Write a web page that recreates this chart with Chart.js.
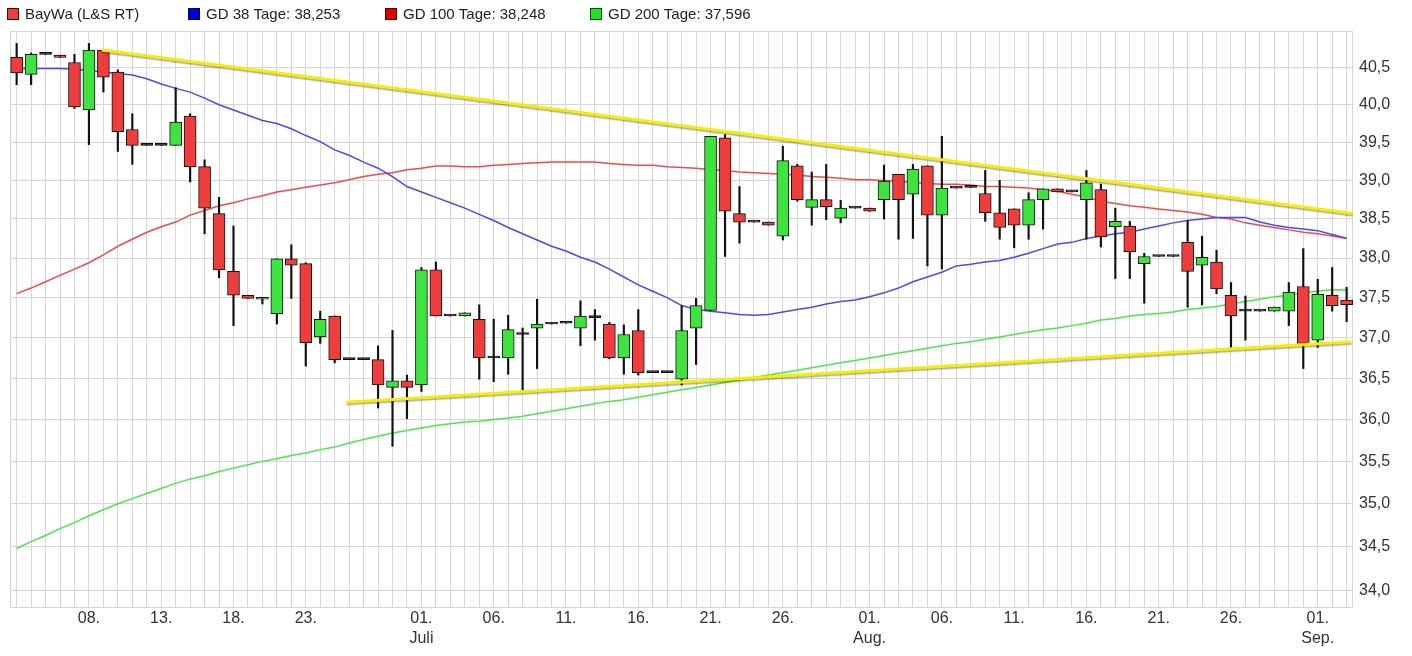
<!DOCTYPE html>
<html>
<head>
<meta charset="utf-8">
<script src="https://cdn.jsdelivr.net/npm/chart.js@4.4.1/dist/chart.umd.min.js"></script>
<style>
  html, body { margin: 0; padding: 0; background: #fff; }
</style>
</head>
<body>
<canvas id="chart" width="1412" height="656"></canvas>
<script>
// Daily candles, 03.06. (index 0) to 03.09. (index 92), weekends included (L&S trades them)
const opens = [
  40.64, 40.41, 40.68, 40.67, 40.57, 39.93, 40.74, 40.44, 39.67, 39.46,
  39.46, 39.46, 39.85, 39.18, 38.57, 37.83, 37.53, 37.48, 37.30, 37.99,
  37.93, 37.01, 37.27, 36.73, 36.73, 36.73, 36.39, 36.47, 36.42, 37.85,
  37.27, 37.27, 37.23, 36.75, 36.75, 37.04, 37.12, 37.17, 37.18, 37.12,
  37.25, 37.17, 36.75, 37.09, 36.57, 36.57, 36.49, 37.12, 37.34, 39.56,
  38.57, 38.46, 38.46, 38.28, 39.19, 38.65, 38.75, 38.51, 38.64, 38.64,
  38.75, 39.08, 38.82, 39.19, 38.55, 38.90, 38.91, 38.83, 38.58, 38.63,
  38.42, 38.75, 38.89, 38.85, 38.75, 38.88, 38.40, 38.41, 37.93, 38.02,
  38.02, 38.20, 37.91, 37.95, 37.53, 37.33, 37.33, 37.33, 37.33, 37.64,
  36.97, 37.53, 37.47
];
const highs = [
  40.83, 40.70, 40.68, 40.67, 40.68, 40.83, 40.75, 40.47, 39.88, 39.46,
  39.46, 40.23, 39.88, 39.27, 38.78, 38.41, 37.53, 37.50, 37.99, 38.17,
  37.94, 37.33, 37.27, 36.73, 36.73, 36.90, 37.09, 36.54, 37.88, 37.95,
  37.27, 37.31, 37.41, 37.23, 37.28, 37.12, 37.48, 37.17, 37.18, 37.46,
  37.35, 37.19, 37.16, 37.35, 36.57, 36.57, 37.40, 37.49, 39.58, 39.60,
  38.92, 38.46, 38.46, 39.45, 39.21, 39.11, 39.21, 38.74, 38.64, 38.64,
  39.20, 39.08, 39.21, 39.19, 39.58, 38.90, 38.91, 39.13, 39.00, 38.63,
  38.84, 38.89, 38.89, 38.85, 39.13, 38.95, 38.64, 38.47, 38.06, 38.02,
  38.02, 38.48, 38.28, 38.10, 37.69, 37.52, 37.33, 37.38, 37.69, 38.12,
  37.73, 37.88, 37.63
];
const lows = [
  40.27, 40.27, 40.68, 40.64, 39.95, 39.47, 40.17, 39.38, 39.21, 39.46,
  39.46, 39.46, 38.98, 38.31, 37.75, 37.15, 37.49, 37.42, 37.17, 37.49,
  36.65, 36.93, 36.69, 36.73, 36.73, 36.14, 35.68, 36.01, 36.34, 37.27,
  37.27, 37.27, 36.49, 36.46, 36.55, 36.36, 36.62, 37.17, 37.18, 36.90,
  36.97, 36.74, 36.55, 36.54, 36.57, 36.57, 36.42, 36.67, 37.34, 38.02,
  38.19, 38.46, 38.42, 38.23, 38.73, 38.42, 38.49, 38.45, 38.64, 38.60,
  38.50, 38.24, 38.25, 37.90, 37.86, 38.90, 38.91, 38.47, 38.24, 38.13,
  38.24, 38.37, 38.85, 38.85, 38.24, 38.14, 37.74, 37.74, 37.43, 38.02,
  38.02, 37.38, 37.41, 37.55, 36.88, 36.97, 37.33, 37.33, 37.15, 36.62,
  36.88, 37.33, 37.20
];
const closes = [
  40.43, 40.68, 40.68, 40.64, 39.97, 40.74, 40.37, 39.64, 39.46, 39.46,
  39.46, 39.77, 39.18, 38.64, 37.85, 37.53, 37.49, 37.49, 37.99, 37.91,
  36.94, 37.23, 36.73, 36.73, 36.73, 36.42, 36.47, 36.39, 37.85, 37.27,
  37.27, 37.31, 36.75, 36.75, 37.10, 37.04, 37.17, 37.17, 37.18, 37.27,
  37.25, 36.75, 37.04, 36.57, 36.57, 36.57, 37.09, 37.40, 39.58, 38.60,
  38.46, 38.46, 38.42, 39.26, 38.75, 38.75, 38.66, 38.64, 38.64, 38.60,
  38.99, 38.75, 39.15, 38.55, 38.90, 38.90, 38.91, 38.58, 38.39, 38.42,
  38.75, 38.89, 38.85, 38.85, 38.97, 38.27, 38.47, 38.08, 38.02, 38.02,
  38.02, 37.83, 38.01, 37.61, 37.27, 37.33, 37.33, 37.38, 37.57, 36.93,
  37.54, 37.40, 37.41
];

// Moving averages
const gd38 = [
  40.49, 40.49, 40.49, 40.49, 40.48, 40.46, 40.44, 40.42, 40.40, 40.35,
  40.28, 40.22, 40.17, 40.09, 40.00, 39.93, 39.86, 39.79, 39.75, 39.68,
  39.59, 39.51, 39.40, 39.33, 39.24, 39.16, 39.05, 38.92, 38.85, 38.78,
  38.71, 38.64, 38.56, 38.48, 38.39, 38.31, 38.23, 38.15, 38.09, 38.01,
  37.95, 37.86, 37.76, 37.66, 37.58, 37.50, 37.40, 37.35, 37.33, 37.31,
  37.29, 37.28, 37.29, 37.32, 37.35, 37.38, 37.42, 37.45, 37.47, 37.51,
  37.56, 37.62, 37.70, 37.76, 37.82, 37.90, 37.92, 37.95, 37.97, 38.01,
  38.06, 38.12, 38.18, 38.20, 38.25, 38.28, 38.31, 38.33, 38.37, 38.41,
  38.45, 38.48, 38.50, 38.52, 38.52, 38.52, 38.46, 38.42, 38.39, 38.37,
  38.35, 38.30, 38.253
];
const gd100 = [
  37.55, 37.62, 37.70, 37.78, 37.86, 37.94, 38.04, 38.15, 38.24, 38.33,
  38.40, 38.46, 38.55, 38.61, 38.67, 38.71, 38.76, 38.80, 38.85, 38.88,
  38.91, 38.94, 38.97, 39.01, 39.05, 39.08, 39.10, 39.14, 39.16, 39.19,
  39.19, 39.18, 39.18, 39.20, 39.21, 39.22, 39.23, 39.24, 39.24, 39.24,
  39.24, 39.22, 39.21, 39.20, 39.20, 39.18, 39.17, 39.16, 39.14, 39.13,
  39.11, 39.10, 39.09, 39.08, 39.07, 39.05, 39.04, 39.03, 39.01, 39.01,
  39.00, 38.99, 38.97, 38.96, 38.95, 38.95, 38.94, 38.92, 38.92, 38.91,
  38.90, 38.88, 38.86, 38.82, 38.78, 38.73, 38.70, 38.67, 38.65, 38.63,
  38.61, 38.59, 38.56, 38.52, 38.50, 38.45, 38.42, 38.39, 38.36, 38.33,
  38.31, 38.28, 38.248
];
const gd200 = [
  34.48, 34.56, 34.63, 34.71, 34.78, 34.86, 34.93, 35.00, 35.06, 35.12,
  35.18, 35.24, 35.29, 35.33, 35.38, 35.42, 35.46, 35.50, 35.53, 35.57,
  35.60, 35.64, 35.67, 35.72, 35.76, 35.80, 35.84, 35.87, 35.90, 35.93,
  35.95, 35.97, 35.98, 36.00, 36.02, 36.04, 36.07, 36.10, 36.13, 36.16,
  36.19, 36.22, 36.24, 36.27, 36.30, 36.33, 36.36, 36.39, 36.42, 36.45,
  36.48, 36.51, 36.54, 36.57, 36.60, 36.63, 36.66, 36.69, 36.72, 36.75,
  36.78, 36.81, 36.84, 36.87, 36.90, 36.93, 36.95, 36.98, 37.01, 37.04,
  37.07, 37.10, 37.12, 37.15, 37.18, 37.22, 37.24, 37.27, 37.29, 37.30,
  37.32, 37.35, 37.37, 37.39, 37.42, 37.45, 37.48, 37.51, 37.53, 37.56,
  37.58, 37.60, 37.596
];

// Hand-drawn trend lines (day index, price)
const upperTrendDays = [5.9, 92.43];
const upperTrendValues = [40.74, 38.57];
const lowerTrendDays = [22.83, 92.34];
const lowerTrendValues = [36.21, 36.95];

// Axis labels
const tickDays = [5, 10, 15, 20, 28, 33, 38, 43, 48, 53, 59, 64, 69, 74, 79, 84, 90];
const tickLabels = ['08.', '13.', '18.', '23.', ['01.', 'Juli'], '06.', '11.', '16.', '21.', '26.',
  ['01.', 'Aug.'], '06.', '11.', '16.', '21.', '26.', ['01.', 'Sep.']];
const priceTicks = [34, 34.5, 35, 35.5, 36, 36.5, 37, 37.5, 38, 38.5, 39, 39.5, 40, 40.5];

const legendTexts = ['BayWa (L&S RT)', 'GD 38 Tage: 38,253', 'GD 100 Tage: 38,248', 'GD 200 Tage: 37,596'];

const GREEN = '#3fe33f';
const RED = '#ee3d3d';
const GRID = '#d6d6d6';
const FONT = "'Liberation Sans', Arial, sans-serif";

const days = opens.map((_, i) => i);
const xy = (xs, ys) => xs.map((x, k) => ({ x, y: ys[k] }));

// flat days (open == close) show as a plain black dash
const candleColor = c => {
    const i = c.dataIndex;
    if (Math.abs(closes[i] - opens[i]) < 0.005) return '#111';
    return closes[i] > opens[i] ? GREEN : RED;
};

// light frame round the plot area
const frame = {
    id: 'frame',
    beforeDatasetsDraw(chart) {
        const { ctx, chartArea: a } = chart;
        ctx.save();
        ctx.strokeStyle = GRID;
        ctx.lineWidth = 1;
        ctx.strokeRect(Math.round(a.left) + 0.5, Math.round(a.top) + 0.5, Math.round(a.width) - 1, Math.round(a.height) - 1);
        ctx.restore();
    }
};

// soft shadow under the yellow trend lines
const lineShadow = {
    id: 'lineShadow',
    beforeDatasetDraw(chart, args) {
        if (!args.meta._dataset.shadow) return;
        const ctx = chart.ctx;
        ctx.save();
        ctx.shadowColor = 'rgba(0,0,0,0.35)';
        ctx.shadowOffsetY = 1.5;
        ctx.shadowBlur = 1.5;
    },
    afterDatasetDraw(chart, args) {
        if (args.meta._dataset.shadow) chart.ctx.restore();
    }
};

// legend row on top: square + text, left aligned
const topLegend = {
    id: 'topLegend',
    afterDraw(chart, args, opts) {
        const ctx = chart.ctx;
        ctx.save();
        ctx.font = opts.font;
        ctx.textBaseline = 'middle';
        opts.items.forEach((it, k) => {
            const x = opts.starts[k];
            ctx.fillStyle = it.fill;
            ctx.fillRect(x, opts.y - 6, 12, 12);
            ctx.strokeStyle = it.stroke;
            ctx.lineWidth = 1;
            ctx.strokeRect(x + 0.5, opts.y - 5.5, 11, 11);
            ctx.fillStyle = '#222';
            ctx.fillText(it.text, x + 18, opts.y + 1);
        });
        ctx.restore();
    }
};

new Chart(document.getElementById('chart'), {
    type: 'bar',
    data: {
        datasets: [
            {
                type: 'line', label: 'Trend oben', data: xy(upperTrendDays, upperTrendValues),
                borderColor: '#f4ee00', borderWidth: 3, pointRadius: 0, order: 0, shadow: true
            },
            {
                type: 'line', label: 'Trend unten', data: xy(lowerTrendDays, lowerTrendValues),
                borderColor: '#f4ee00', borderWidth: 3, pointRadius: 0, order: 0, shadow: true
            },
            {
                label: legendTexts[0],
                data: days.map(i => ({ x: i, y: [opens[i], closes[i]] })),
                backgroundColor: candleColor,
                borderColor: '#111',
                borderWidth: 1,
                borderSkipped: false,
                barThickness: 12,
                minBarLength: 2,
                grouped: false,
                order: 1
            },
            {
                label: 'Docht',
                data: days.map(i => ({ x: i, y: [lows[i], highs[i]] })),
                backgroundColor: '#111',
                barThickness: 1.5,
                grouped: false,
                order: 2
            },
            {
                type: 'line', label: legendTexts[1], data: xy(days, gd38),
                borderColor: '#4a4af2', borderWidth: 1.5, pointRadius: 0, order: 3
            },
            {
                type: 'line', label: legendTexts[2], data: xy(days, gd100),
                borderColor: '#f24a4a', borderWidth: 1.5, pointRadius: 0, order: 3
            },
            {
                type: 'line', label: legendTexts[3], data: xy(days, gd200),
                borderColor: '#4ae84a', borderWidth: 1.5, pointRadius: 0, order: 3
            }
        ]
    },
    options: {
        responsive: false,
        animation: false,
        devicePixelRatio: 1,
        layout: { padding: { top: 31, left: 10, right: 0, bottom: 0 } },
        scales: {
            x: {
                type: 'linear',
                min: -0.46,
                max: 92.44,
                offset: false,
                grid: { color: GRID, lineWidth: 1, drawTicks: false, offset: false },
                border: { display: false },
                afterBuildTicks: axis => { axis.ticks = days.map(v => ({ value: v })); },
                afterFit: axis => { axis.height = 48; },
                ticks: {
                    autoSkip: false,
                    maxRotation: 0,
                    padding: 1,
                    color: '#333',
                    font: { family: FONT, size: 16, lineHeight: 1.25 },
                    callback: v => {
                        const k = tickDays.indexOf(v);
                        return k < 0 ? '' : tickLabels[k];
                    }
                }
            },
            y: {
                type: 'logarithmic',
                position: 'right',
                min: 33.83,
                max: 41.0,
                grid: { color: GRID, lineWidth: 1, drawTicks: false },
                border: { display: false },
                afterBuildTicks: axis => { axis.ticks = priceTicks.map(v => ({ value: v })); },
                afterFit: axis => { axis.width = 59; },
                ticks: {
                    padding: 6,
                    color: '#333',
                    font: { family: FONT, size: 16 },
                    callback: v => v.toFixed(1).replace('.', ',')
                }
            }
        },
        plugins: {
            legend: { display: false },
            tooltip: { enabled: false },
            topLegend: {
                font: '15px ' + FONT,
                y: 14,
                starts: [7, 188, 385, 590],
                items: [
                    { text: legendTexts[0], fill: '#e84040', stroke: '#3a1010' },
                    { text: legendTexts[1], fill: '#0000e0', stroke: '#000050' },
                    { text: legendTexts[2], fill: '#e00000', stroke: '#500000' },
                    { text: legendTexts[3], fill: '#22e022', stroke: '#0a500a' }
                ]
            }
        }
    },
    plugins: [frame, lineShadow, topLegend]
});
</script>
</body>
</html>
